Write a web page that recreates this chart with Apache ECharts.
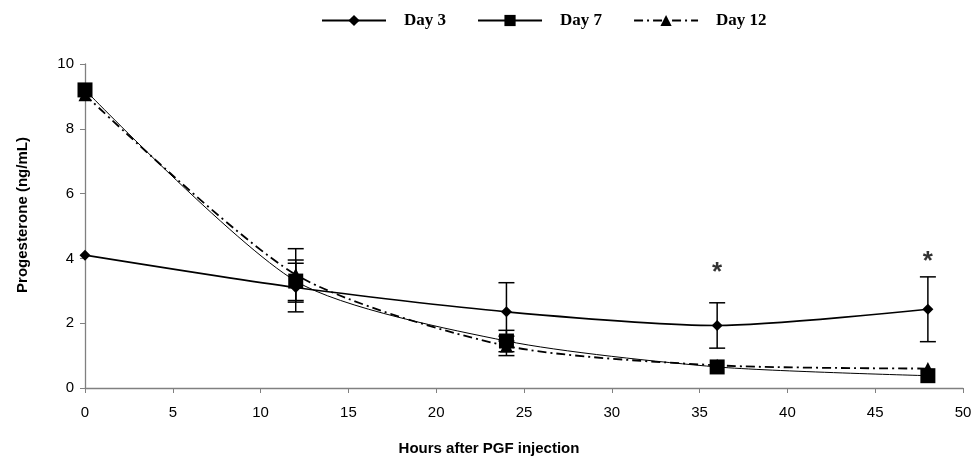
<!DOCTYPE html>
<html>
<head>
<meta charset="utf-8">
<script src="https://cdn.jsdelivr.net/npm/echarts@6/dist/echarts.min.js"></script>
<style>html,body{margin:0;padding:0;background:#fff}#c{width:977px;height:461px}</style>
</head>
<body>
<div id="c"></div>
<script>
var hours = [0, 12, 24, 36, 48];
var day3 = [4.1, 3.1, 2.35, 1.93, 2.43];
var day3Err = [0, 0.75, 0.9, 0.7, 1.0];
var day7 = [9.2, 3.3, 1.45, 0.65, 0.38];
var day7Err = [0, 0.65, 0.33, 0, 0];
var day12 = [9.05, 3.5, 1.3, 0.7, 0.6];
var day12Err = [0, 0.8, 0.3, 0, 0];
var sigHours = [36, 48];
var sigY = [3.55, 3.88];
var xTicks = [0, 5, 10, 15, 20, 25, 30, 35, 40, 45, 50];
var yTicks = [0, 2, 4, 6, 8, 10];

function pts(v) { return hours.map(function (h, i) { return [h, v[i]]; }); }
function errs(v, e) {
  var out = [];
  hours.forEach(function (h, i) { if (e[i] > 0) out.push([h, v[i] - e[i], v[i] + e[i]]); });
  return out;
}
function errSeries(v, e) {
  return {
    type: 'custom', silent: true, z: 1,
    data: errs(v, e),
    renderItem: function (params, api) {
      var x = api.value(0);
      var lo = api.coord([x, api.value(1)]);
      var hi = api.coord([x, api.value(2)]);
      var w = 8;
      var st = { stroke: '#000', lineWidth: 1.5 };
      return {
        type: 'group',
        children: [
          { type: 'line', shape: { x1: lo[0], y1: lo[1], x2: hi[0], y2: hi[1] }, style: st },
          { type: 'line', shape: { x1: lo[0] - w, y1: lo[1], x2: lo[0] + w, y2: lo[1] }, style: st },
          { type: 'line', shape: { x1: hi[0] - w, y1: hi[1], x2: hi[0] + w, y2: hi[1] }, style: st }
        ]
      };
    }
  };
}

var chart = echarts.init(document.getElementById('c'));
chart.setOption({
  animation: false,
  backgroundColor: '#fff',
  grid: { left: 85, right: 14, top: 64, bottom: 73 },
  legend: {
    top: 7, left: 316,
    itemWidth: 64, itemHeight: 14, itemGap: 31,
    data: ['Day 3', 'Day 7', 'Day 12'],
    textStyle: { fontFamily: 'Liberation Serif', fontWeight: 'bold', fontSize: 17, color: '#000', padding: [0, 0, 0, 13] }
  },
  xAxis: {
    type: 'value', min: 0, max: 50, interval: 5,
    name: 'Hours after PGF injection', nameLocation: 'middle', nameGap: 53,
    nameTextStyle: { fontFamily: 'Liberation Sans', fontWeight: 'bold', fontSize: 15, color: '#000', padding: [0, 70, 0, 0] },
    axisLine: { lineStyle: { color: '#808080', width: 1.3 } },
    axisTick: { show: true, length: 5, lineStyle: { color: '#808080' } },
    axisLabel: { fontFamily: 'Liberation Sans', fontSize: 15, color: '#000', margin: 17 },
    splitLine: { show: false }
  },
  yAxis: {
    type: 'value', min: 0, max: 10, interval: 2,
    name: 'Progesterone (ng/mL)', nameLocation: 'middle', nameGap: 55, nameRotate: 90,
    nameTextStyle: { fontFamily: 'Liberation Sans', fontWeight: 'bold', fontSize: 15, color: '#000', padding: [0, 0, 0, 22] },
    axisLine: { show: true, lineStyle: { color: '#808080', width: 1.3 } },
    axisTick: { show: true, length: 5, lineStyle: { color: '#808080' } },
    axisLabel: { fontFamily: 'Liberation Sans', fontSize: 15, color: '#000', margin: 11 },
    splitLine: { show: false }
  },
  series: [
    errSeries(day3, day3Err),
    errSeries(day7, day7Err),
    errSeries(day12, day12Err),
    {
      name: 'Day 3', type: 'line', smooth: 0.25, z: 3,
      data: pts(day3),
      symbol: 'diamond', symbolSize: 11,
      itemStyle: { color: '#000' },
      lineStyle: { color: '#000', width: 1.6 }
    },
    {
      name: 'Day 7', type: 'line', smooth: 0.25, z: 4,
      data: pts(day7),
      symbol: 'rect', symbolSize: 15,
      itemStyle: { color: '#000' },
      lineStyle: { color: '#000', width: 1 }
    },
    {
      name: 'Day 12', type: 'line', smooth: 0.25, z: 3,
      data: pts(day12),
      symbol: 'triangle', symbolSize: 13,
      itemStyle: { color: '#000' },
      lineStyle: { color: '#000', width: 1.8, type: [9, 4, 2, 4] }
    },
    {
      type: 'scatter', silent: true, z: 5,
      data: sigHours.map(function (h, i) { return [h, sigY[i]]; }),
      symbolSize: 1, itemStyle: { color: 'transparent' },
      label: { show: true, position: 'inside', formatter: '*', fontFamily: 'Liberation Sans', fontWeight: 'bold', fontSize: 26, color: '#000' }
    }
  ]
});
</script>
</body>
</html>
